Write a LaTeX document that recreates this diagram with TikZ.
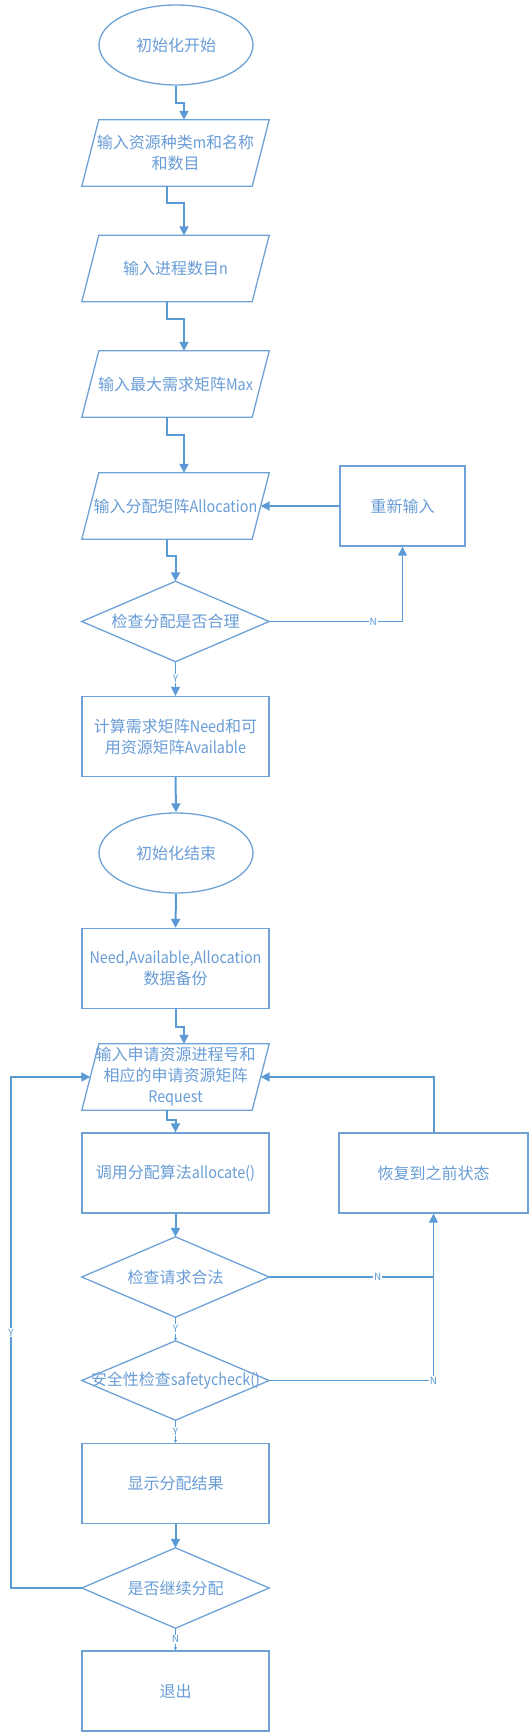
\documentclass[tikz,border=0pt]{standalone}
\usepackage{fontspec}
\newfontfamily\cjk{Noto Sans CJK SC}
\newfontfamily\latn{Noto Sans CJK SC}[FakeStretch=0.9]
\newcommand{\lt}[1]{{\latn #1}}
\usetikzlibrary{arrows.meta,shapes.geometric}
\definecolor{lineblue}{RGB}{91,155,213}
\definecolor{shapeblue}{RGB}{110,162,214}
\definecolor{textblue}{RGB}{104,156,214}
\begin{document}
\begin{tikzpicture}[x=1pt,y=-1pt,
  box/.style={rectangle, inner sep=0pt, minimum width=187pt, minimum height=80pt, align=center, text=textblue, font=\cjk\fontsize{16}{21}\selectfont},
  rbox/.style={box, draw=shapeblue, line width=1.3pt},
  pbox/.style={box, minimum width=170pt, minimum height=66pt},
  dbox/.style={box},
  oval/.style={ellipse, draw=shapeblue, line width=1.3pt, inner sep=0pt, minimum width=154pt, minimum height=80pt, text=textblue, font=\cjk\fontsize{16}{21}\selectfont},
  outline/.style={draw=shapeblue, line width=1.3pt, line join=miter},
  conn/.style={draw=lineblue, line width=2pt, -{Triangle[length=9pt,width=9pt]}},
  nline/.style={draw=lineblue, line width=1.5pt},
  small/.style={draw=lineblue, line width=0.8pt, -{Triangle[length=3pt,width=3pt]}},
  lbl/.style={fill=white, inner sep=1pt, text=lineblue, font=\cjk\fontsize{10}{11}\selectfont},
]
\useasboundingbox (0,0) rectangle (530,1736);
% nodes
\node[oval] (e1) at (176,45) {初始化开始};
\node[pbox] (p1) at (175.5,153) {输入资源种类\lt{m}和名称\\和数目};
\node[pbox] (p2) at (175.5,268.5) {输入进程数目\lt{n}};
\node[pbox] (p3) at (175.5,384) {输入最大需求矩阵\lt{Max}};
\node[pbox] (p4) at (175.5,506) {输入分配矩阵\lt{Allocation}};
\node[rbox, minimum width=125pt] (re) at (402.5,506) {重新输入};
\node[dbox] (d1) at (175.5,621.5) {检查分配是否合理};
\node[rbox] (calc) at (175.5,736.5) {计算需求矩阵\lt{Need}和可\\用资源矩阵\lt{Available}};
\node[oval] (e2) at (176,853) {初始化结束};
\node[rbox] (need) at (175.5,968.5) {\lt{Need,Available,Allocation}\\数据备份};
\node[pbox] (p5) at (175.5,1077) {输入申请资源进程号和\\相应的申请资源矩阵\\\lt{Request}};
\node[rbox] (call) at (175.5,1173) {调用分配算法\lt{allocate()}};
\node[rbox, minimum width=189pt] (rec) at (433.5,1173) {恢复到之前状态};
\node[dbox] (d2) at (175.5,1277) {检查请求合法};
\node[dbox, minimum height=79pt] (d3) at (175.5,1380.5) {安全性检查\lt{safetycheck()}};
\node[rbox] (show) at (175.5,1483.5) {显示分配结果};
\node[dbox] (d4) at (175.5,1588) {是否继续分配};
\node[rbox] (exit) at (175.5,1691) {退出};
\coordinate (lx) at (11,0);
% outlines
\foreach \n in {p1,p2,p3,p4,p5}
  \draw[outline] ([xshift=-8.5pt]\n.south west) -- ([xshift=-8.5pt]\n.south east) -- ([xshift=8.5pt]\n.north east) -- ([xshift=8.5pt]\n.north west) -- cycle;
\foreach \n in {d1,d2,d3,d4}
  \draw[outline] (\n.west) -- (\n.north) -- (\n.east) -- (\n.south) -- cycle;
% connectors
\draw[conn] (e1.south) -- ++(0,17) -| ([xshift=8.5pt]p1.north);
\draw[conn] ([xshift=-8.5pt]p1.south) -- ++(0,17) -| ([xshift=8.5pt]p2.north);
\draw[conn] ([xshift=-8.5pt]p2.south) -- ++(0,17) -| ([xshift=8.5pt]p3.north);
\draw[conn] ([xshift=-8.5pt]p3.south) -- ++(0,18) -| ([xshift=8.5pt]p4.north);
\draw[conn] ([xshift=-8.5pt]p4.south) -- ++(0,17) -| (d1.north);
\draw[conn] (re.west) -- (p4.east);
\draw[nline,-{Triangle[length=9pt,width=9pt]}] (d1.east) -| node[lbl,pos=0.39]{N} (re.south);
\draw[conn, line width=1pt] (d1.south) -- node[lbl]{Y} (calc.north);
\draw[conn] (calc.south) -- (e2.north);
\draw[conn] (e2.south) -- (need.north);
\draw[conn] (need.south) -- ++(0,18) -| ([xshift=8.5pt]p5.north);
\draw[conn] ([xshift=-8.5pt]p5.south) -- ++(0,10) -| (call.north);
\draw[conn] (call.south) -- (d2.north);
\draw[small] (d2.south) -- node[lbl]{Y} (d3.north);
\draw[small] (d3.south) -- node[lbl]{Y} (show.north);
\draw[conn] (show.south) -- (d4.north);
\draw[small] (d4.south) -- node[lbl]{N} (exit.north);
\draw[nline] (d2.east) -- node[lbl,pos=0.66]{N} (d2.east -| rec.south);
\draw[nline,-{Triangle[length=9pt,width=9pt]}] (d3.east) -| node[lbl,pos=0.5]{N} (rec.south);
\draw[conn] (rec.north) |- (p5.east);
\draw[conn] (d4.west) -- (d4.west -| lx) -- node[lbl]{Y} (p5.west -| lx) -- (p5.west);
\end{tikzpicture}
\end{document}
